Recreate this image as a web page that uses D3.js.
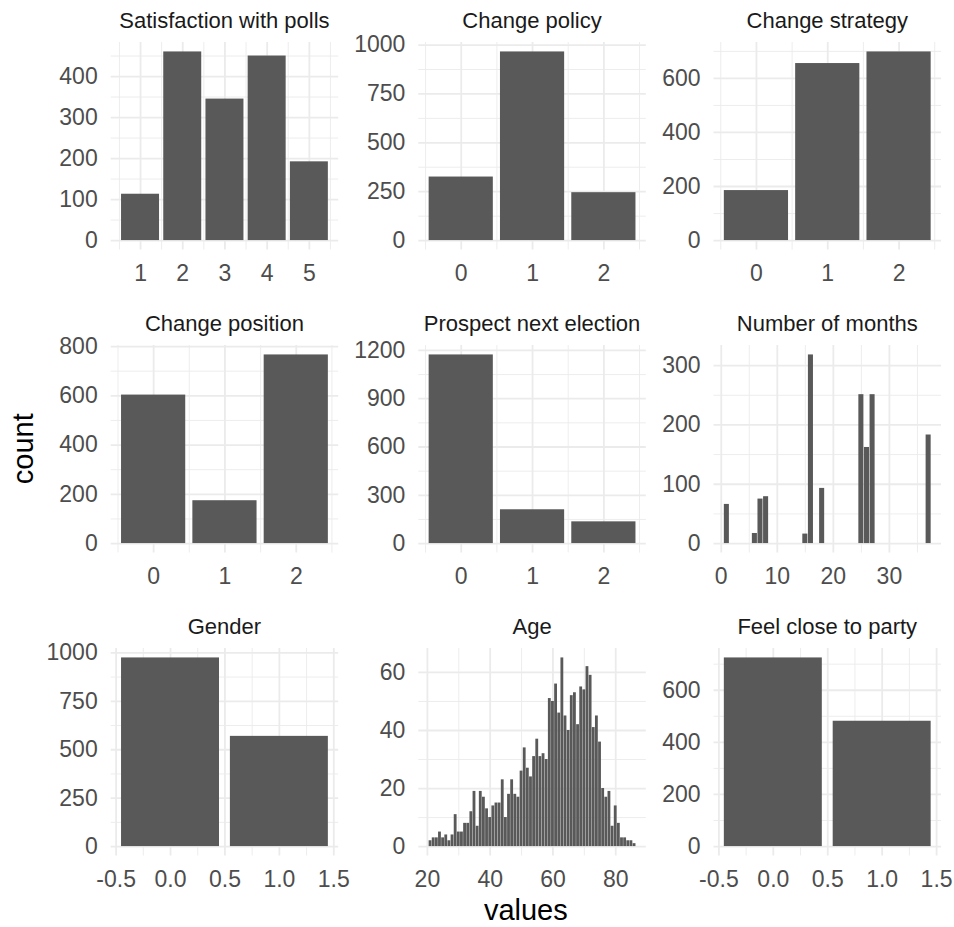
<!DOCTYPE html>
<html>
<head>
  <meta charset="utf-8">
  <title>Distributions</title>
  <script src="https://d3js.org/d3.v7.min.js"></script>
  <style>
    body { margin: 0; background: #fff; }
    text { font-family: "Liberation Sans", Arial, sans-serif; }
    .grid line { stroke: #ebebeb; }
    .grid path { display: none; }
    .lab path { display: none; }
    .lab text { font-size: 23px; fill: #4d4d4d; font-family: "Liberation Sans", Arial, sans-serif; }
  </style>
</head>
<body>
<script>

// counts per value
var satX = [1, 2, 3, 4, 5];
var satCount = [113, 460, 345, 450, 192];

var policyX = [0, 1, 2];
var policyCount = [325, 965, 245];

var strategyX = [0, 1, 2];
var strategyCount = [185, 655, 698];

var positionX = [0, 1, 2];
var positionCount = [603, 174, 766];

var prospectX = [0, 1, 2];
var prospectCount = [1172, 210, 135];

var monthsX = [1, 6, 7, 8, 15, 16, 18, 25, 26, 27, 37];
var monthsCount = [66, 17, 75, 79, 16, 318, 93, 251, 162, 251, 183];

var genderX = [0, 1];
var genderCount = [974, 569];

var ageX = [21, 22, 23, 24, 25, 26, 27, 28, 29, 30,
            31, 32, 33, 34, 35, 36, 37, 38, 39, 40,
            41, 42, 43, 44, 45, 46, 47, 48, 49, 50,
            51, 52, 53, 54, 55, 56, 57, 58, 59, 60,
            61, 62, 63, 64, 65, 66, 67, 68, 69, 70,
            71, 72, 73, 74, 75, 76, 77, 78, 79, 80,
            81, 82, 83, 84, 85, 86];
var ageCount = [2, 3, 3, 5, 3, 4, 2, 4, 11, 5,
                5, 8, 8, 12, 19, 7, 19, 17, 13, 10,
                14, 15, 15, 23, 10, 18, 23, 18, 17, 26,
                34, 27, 24, 31, 37, 31, 32, 30, 51, 50,
                56, 46, 65, 45, 40, 52, 53, 42, 55, 54,
                62, 59, 41, 45, 36, 20, 17, 19, 7, 14,
                8, 3, 3, 2, 2, 1];

var partyX = [0, 1];
var partyCount = [724, 481];

// tick labels
var satXTicks = [1, 2, 3, 4, 5];
var satYTicks = [0, 100, 200, 300, 400];
var catXTicks = [0, 1, 2];
var policyYTicks = [0, 250, 500, 750, 1000];
var strategyYTicks = [0, 200, 400, 600];
var positionYTicks = [0, 200, 400, 600, 800];
var prospectYTicks = [0, 300, 600, 900, 1200];
var monthsXTicks = [0, 10, 20, 30];
var monthsYTicks = [0, 100, 200, 300];
var binXTicks = [-0.5, 0, 0.5, 1, 1.5];
var genderYTicks = [0, 250, 500, 750, 1000];
var ageXTicks = [20, 40, 60, 80];
var ageYTicks = [0, 20, 40, 60];
var partyYTicks = [0, 200, 400, 600];

var titles = ["Satisfaction with polls", "Change policy", "Change strategy",
              "Change position", "Prospect next election", "Number of months",
              "Gender", "Age", "Feel close to party"];

var w = 954;
var h = 927;

// panel grid (facet layout)
var colLeft = [110.7, 418.3, 713.5];
var rowTop = [42, 345, 648];
var panelW = 227.5;
var panelH = 207.5;

var intFmt = d3.format("d");
var decFmt = function(v) { return v.toFixed(1); };

var panels = [
  {x: satX, y: satCount, xt: satXTicks, yt: satYTicks, xf: intFmt},
  {x: policyX, y: policyCount, xt: catXTicks, yt: policyYTicks, xf: intFmt},
  {x: strategyX, y: strategyCount, xt: catXTicks, yt: strategyYTicks, xf: intFmt},
  {x: positionX, y: positionCount, xt: catXTicks, yt: positionYTicks, xf: intFmt},
  {x: prospectX, y: prospectCount, xt: catXTicks, yt: prospectYTicks, xf: intFmt},
  {x: monthsX, y: monthsCount, xt: monthsXTicks, yt: monthsYTicks, xf: intFmt},
  {x: genderX, y: genderCount, xt: binXTicks, yt: genderYTicks, xf: decFmt},
  {x: ageX, y: ageCount, xt: ageXTicks, yt: ageYTicks, xf: intFmt},
  {x: partyX, y: partyCount, xt: binXTicks, yt: partyYTicks, xf: decFmt}
];

var svg = d3.select("body")
  .append("svg")
  .attr("width", w)
  .attr("height", h);

// minor breaks sit halfway between the major ones
function minors(ticks, dom) {
  var step = ticks[1] - ticks[0];
  var out = [];
  for (var v = ticks[0] - step / 2; v <= dom[1]; v += step) {
    if (v >= dom[0]) out.push(v);
  }
  return out;
}

panels.forEach(function(p, i) {
  var left = colLeft[i % 3];
  var top = rowTop[Math.floor(i / 3)];
  var g = svg.append("g");

  var x0 = d3.min(p.x) - 0.45, x1 = d3.max(p.x) + 0.45;
  var xpad = (x1 - x0) * 0.05;
  var xDom = [x0 - xpad, x1 + xpad];
  var yMax = d3.max(p.y);
  var yDom = [-yMax * 0.05, yMax * 1.05];

  var xScale = d3.scaleLinear().domain(xDom).range([left, left + panelW]);
  var yScale = d3.scaleLinear().domain(yDom).range([top + panelH, top]);

  // grid lines
  g.append("g").attr("class", "grid")
    .attr("transform", "translate(0," + (top + panelH) + ")")
    .call(d3.axisBottom(xScale).tickValues(minors(p.xt, xDom)).tickSize(-panelH).tickFormat(""))
    .selectAll("line").attr("stroke-width", 0.9);
  g.append("g").attr("class", "grid")
    .attr("transform", "translate(" + left + ",0)")
    .call(d3.axisLeft(yScale).tickValues(minors(p.yt, yDom)).tickSize(-panelW).tickFormat(""))
    .selectAll("line").attr("stroke-width", 0.9);
  g.append("g").attr("class", "grid")
    .attr("transform", "translate(0," + (top + panelH) + ")")
    .call(d3.axisBottom(xScale).tickValues(p.xt).tickSize(-panelH).tickFormat(""))
    .selectAll("line").attr("stroke-width", 1.8);
  g.append("g").attr("class", "grid")
    .attr("transform", "translate(" + left + ",0)")
    .call(d3.axisLeft(yScale).tickValues(p.yt).tickSize(-panelW).tickFormat(""))
    .selectAll("line").attr("stroke-width", 1.8);

  // bars
  g.selectAll("rect")
    .data(p.x.map(function(v, j) { return [v, p.y[j]]; }))
    .enter()
    .append("rect")
    .attr("x", function(d) { return xScale(d[0] - 0.45); })
    .attr("width", function(d) { return xScale(d[0] + 0.45) - xScale(d[0] - 0.45); })
    .attr("y", function(d) { return yScale(d[1]); })
    .attr("height", function(d) { return yScale(0) - yScale(d[1]); })
    .attr("fill", "#595959");

  // tick labels
  g.append("g").attr("class", "lab")
    .attr("transform", "translate(0," + (top + panelH) + ")")
    .call(d3.axisBottom(xScale).tickValues(p.xt).tickSize(0).tickPadding(15).tickFormat(p.xf));
  g.append("g").attr("class", "lab")
    .attr("transform", "translate(" + left + ",0)")
    .call(d3.axisLeft(yScale).tickValues(p.yt).tickSize(0).tickPadding(13).tickFormat(intFmt));

  // strip title
  g.append("text")
    .attr("x", left + panelW / 2)
    .attr("y", top - 14)
    .attr("text-anchor", "middle")
    .attr("font-size", "22px")
    .attr("fill", "#1a1a1a")
    .text(titles[i]);
});

// axis titles
svg.append("text")
  .attr("x", (colLeft[0] + colLeft[2] + panelW) / 2)
  .attr("y", 920)
  .attr("text-anchor", "middle")
  .attr("font-size", "29px")
  .attr("fill", "#000")
  .text("values");

svg.append("text")
  .attr("transform", "translate(33," + ((rowTop[0] + rowTop[2] + panelH) / 2) + ") rotate(-90)")
  .attr("text-anchor", "middle")
  .attr("font-size", "29px")
  .attr("fill", "#000")
  .text("count");

</script>
</body>
</html>
